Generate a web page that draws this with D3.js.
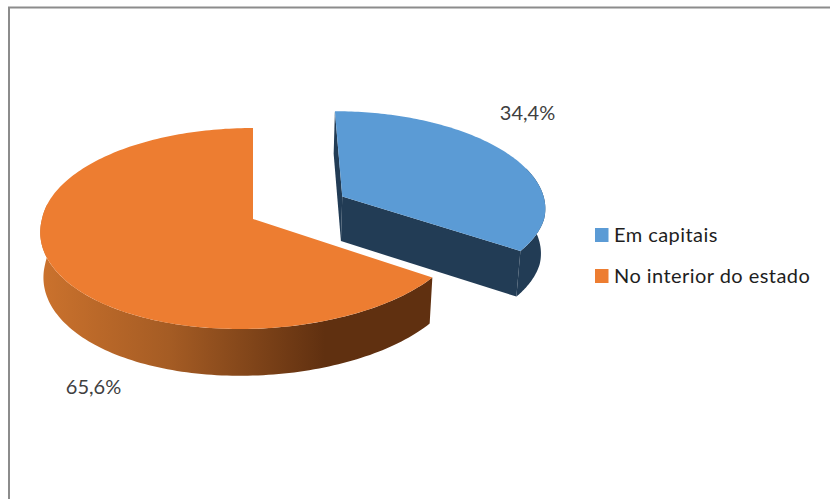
<!DOCTYPE html>
<html>
<head>
<meta charset="utf-8">
<script src="https://cdn.jsdelivr.net/npm/d3@7"></script>
<style>
  html, body { margin: 0; padding: 0; background: #fff; }
  svg { display: block; }
  text { font-family: Lato, "Open Sans", sans-serif; }
</style>
</head>
<body>
<svg id="chart" width="830" height="499"></svg>
<script>
const categories = ["Em capitais", "No interior do estado"];
const shares = [34.4, 65.6];
const shareLabels = ["34,4%", "65,6%"];
const topColors = ["#5b9bd5", "#ed7d31"];

const svg = d3.select("#chart");

// Frame of the chart area
svg.append("path")
  .attr("d", "M9,499V7.5H830")
  .attr("fill", "none").attr("stroke", "#8c8c8c").attr("stroke-width", 2);

// Tilted 3D pie: the disc lies in a plane seen under a slight perspective
const cx = 253, cy = 219, radiusX = 211, radiusY = 99.6, persp = 0.0945;
const baseShrink = 0.985, skew = -13;

function project(u, v, lower) {
  const w = 1 - persp * v;
  const lean = v > 0 ? skew * (v + v * v) / 2 : 0;
  let x = cx + radiusX * u / w + lean;
  let y = cy + radiusY * v / w;
  if (lower) { x = cx + (x - cx) * baseShrink; y += 45 + 1.8 * v; }
  return [x, y];
}

const arcs = d3.pie().sort(null).value(d => d)(shares);
// Distance each slice is pulled out of the pie, and its relative radius
const explode = [0.49, 0];
const sliceRadius = [0.975, 1];

arcs.forEach((a, i) => {
  const mid = (a.startAngle + a.endAngle) / 2;
  const r = sliceRadius[i];
  a.du = explode[i] * Math.sin(mid);
  a.dv = -explode[i] * Math.cos(mid);
  a.at = (t, lower) => project(a.du + r * Math.sin(t), a.dv - r * Math.cos(t), lower);
  a.apex = lower => project(a.du, a.dv, lower);
});

const line = d3.line();
const sweep = (from, to, n = 120) =>
  d3.range(n + 1).map(k => from + (to - from) * k / n);

const defs = svg.append("defs");
const grad = defs.append("linearGradient")
  .attr("id", "rimShade").attr("gradientUnits", "userSpaceOnUse")
  .attr("x1", 41).attr("x2", 325).attr("y1", 0).attr("y2", 0);
grad.append("stop").attr("offset", 0).attr("stop-color", "#cb722d");
grad.append("stop").attr("offset", 0.45).attr("stop-color", "#a55c24");
grad.append("stop").attr("offset", 1).attr("stop-color", "#603010");

const sideBlue = "#223c55";

// Orange slice: outer wall, then top face
{
  const a = arcs[1];
  const ts = sweep(a.startAngle, Math.PI * 1.55);
  const wall = ts.map(t => a.at(t, false)).concat(ts.slice().reverse().map(t => a.at(t, true)));
  svg.append("path").attr("d", line(wall) + "Z").attr("fill", "url(#rimShade)");
  const top = sweep(a.startAngle, a.endAngle, 200).map(t => a.at(t, false));
  top.push(a.apex(false));
  svg.append("path").attr("d", line(top) + "Z").attr("fill", topColors[1]);
}

// Blue slice: cut faces and outer wall, then top face
{
  const a = arcs[0];
  const g = svg.append("g").attr("fill", sideBlue);
  const cut = t => [a.apex(false), a.at(t, false), a.at(t, true), a.apex(true)];
  g.append("path").attr("d", line(cut(a.startAngle)) + "Z");
  g.append("path").attr("d", line(cut(a.endAngle)) + "Z");
  const ts = sweep(Math.PI * 0.4, a.endAngle);
  const wall = ts.map(t => a.at(t, false)).concat(ts.slice().reverse().map(t => a.at(t, true)));
  g.append("path").attr("d", line(wall) + "Z");
  const top = sweep(a.startAngle, a.endAngle, 120).map(t => a.at(t, false));
  top.push(a.apex(false));
  svg.append("path").attr("d", line(top) + "Z").attr("fill", topColors[0]);
}

// Value labels
const labelPos = [[527.5, 120], [93.5, 394]];
svg.selectAll("text.value").data(shareLabels).join("text")
  .attr("class", "value")
  .attr("x", (d, i) => labelPos[i][0]).attr("y", (d, i) => labelPos[i][1])
  .attr("text-anchor", "middle").attr("font-size", 20).attr("fill", "#404040")
  .text(d => d);

// Legend
const legendY = d3.scalePoint().domain(categories).range([228, 269]);
const legend = svg.selectAll("g.legend").data(categories).join("g")
  .attr("class", "legend").attr("transform", d => `translate(595,${legendY(d)})`);
legend.append("rect").attr("width", 13.5).attr("height", 14)
  .attr("fill", (d, i) => topColors[i]);
legend.append("text").attr("x", 19).attr("y", 14)
  .attr("font-size", 20).attr("letter-spacing", 0.45).attr("fill", "#1e1e1e")
  .text(d => d);
</script>
</body>
</html>
